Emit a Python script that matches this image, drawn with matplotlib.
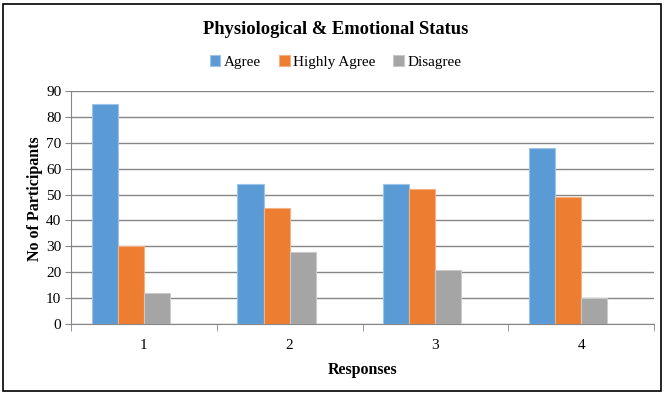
import numpy as np
import matplotlib.pyplot as plt
from matplotlib.patches import Rectangle

categories = ["1", "2", "3", "4"]
series_names = ["Agree", "Highly Agree", "Disagree"]
agree = [85, 54, 54, 68]
highly_agree = [30, 45, 52, 49]
disagree = [12, 28, 21, 10]
colors = ["#5B9BD5", "#ED7D31", "#A5A5A5"]
edges = ["#9DC3E6", "#F4B183", "#C9C9C9"]

plt.rcParams["font.family"] = ["Liberation Serif", "DejaVu Serif"]

fig = plt.figure(figsize=(6.71, 3.96), dpi=100)
ax = fig.add_axes([0.1058, 0.1818, 0.8689, 0.5884])

x = np.arange(len(categories))
w = 0.179
# Excel leaves room for a fourth (empty) series slot, so groups sit left of centre
offsets = [-1.5, -0.5, 0.5]
for vals, name, off, c, e in zip([agree, highly_agree, disagree], series_names, offsets, colors, edges):
    ax.bar(x + off * w, vals, w, color=c, edgecolor=e, linewidth=0.8, label=name, zorder=3)

ax.set_xlim(-0.5, len(categories) - 0.5)
ax.set_ylim(0, 90)
ax.set_yticks(np.arange(0, 91, 10))
ax.yaxis.grid(True, color="#868686", linewidth=1.0, zorder=0)
ax.set_xticks(x)
ax.set_xticklabels(categories)
ax.set_xticks(np.arange(-0.5, len(categories), 1), minor=True)
ax.tick_params(axis="x", which="major", length=0, pad=11, labelsize=11)
ax.tick_params(axis="x", which="minor", length=5, color="#868686", direction="out")
ax.tick_params(axis="y", length=4, color="#868686", labelsize=11, pad=3)

for s in ["top", "right"]:
    ax.spines[s].set_visible(False)
ax.spines["left"].set_color("#868686")
ax.spines["bottom"].set_color("#868686")

ax.set_xlabel("Responses", fontsize=11.5, fontweight="bold", labelpad=7)
ax.set_ylabel("No of Participants", fontsize=11.5, fontweight="bold")
ax.yaxis.set_label_coords(-0.048, 0.536)

fig.text(0.5, 0.925, "Physiological & Emotional Status", ha="center", va="center",
         fontsize=13.3, fontweight="bold")
fig.legend(loc="center", bbox_to_anchor=(0.5, 0.843), ncol=3, frameon=False,
           fontsize=11, handlelength=0.7, handleheight=0.7, handletextpad=0.2,
           columnspacing=1.2)

fig.patches.append(Rectangle((3 / 671, 1 - 391 / 396), 658 / 671, 387 / 396,
                             transform=fig.transFigure, fill=False,
                             edgecolor="black", linewidth=1.2))

fig.savefig("out.png", dpi=100)
